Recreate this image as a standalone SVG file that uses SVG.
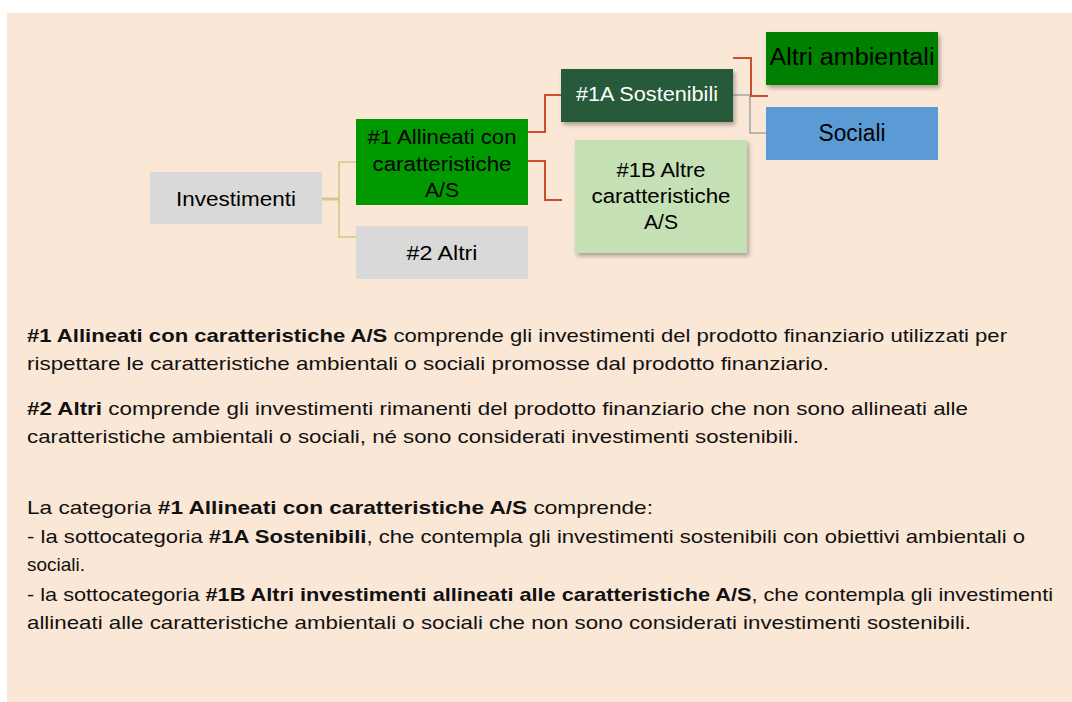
<svg xmlns="http://www.w3.org/2000/svg" width="1072" height="702" viewBox="0 0 1072 702">
<defs>
<filter id="sh" x="-10%" y="-10%" width="130%" height="140%">
<feDropShadow dx="2" dy="3" stdDeviation="2" flood-color="#000" flood-opacity="0.3"/>
</filter>
<style>
.n{font-family:"Liberation Sans",Arial,sans-serif;font-size:20px;text-anchor:middle;fill:#000}
.big{font-size:23px}
.w{fill:#fff}
.p{font-family:"Liberation Sans",Arial,sans-serif;font-size:19px;fill:#111}
.b{font-weight:bold}
.tan{fill:none;stroke:#D4C884;stroke-width:1.6}
.red{fill:none;stroke:#C9502E;stroke-width:2}
.gry{fill:none;stroke:#A6A6A6;stroke-width:1.6}
</style>
</defs>
<rect x="7" y="13" width="1065" height="689" fill="#FAE7D6"/>
<g id="connectors">
<path class="tan" d="M322,199 H339" style="stroke-width:3"/>
<path class="tan" d="M356,162 H339 V237 H356"/>
<path class="red" d="M528,132 H545 V95 H561"/>
<path class="red" d="M528,161 H545 V200 H562"/>
<path class="gry" d="M733,95 H750 V133 H766"/>
<path class="red" d="M733,58 H751 V96 H768"/>
</g>
<g id="investimenti">
<rect x="150" y="172" width="172" height="52" fill="#D9D9D9"/>
<text class="n" x="236" y="206" textLength="120" lengthAdjust="spacingAndGlyphs">Investimenti</text>
</g>
<g id="allineati">
<rect x="356" y="119" width="172" height="86" fill="#009A00"/>
<text class="n" x="442" y="144" textLength="149" lengthAdjust="spacingAndGlyphs">#1 Allineati con</text>
<text class="n" x="442" y="171" textLength="139" lengthAdjust="spacingAndGlyphs">caratteristiche</text>
<text class="n" x="442" y="197" textLength="34" lengthAdjust="spacingAndGlyphs">A/S</text>
</g>
<g id="altri2">
<rect x="356" y="226" width="172" height="53" fill="#D9D9D9"/>
<text class="n" x="442" y="260" textLength="71" lengthAdjust="spacingAndGlyphs">#2 Altri</text>
</g>
<g id="sostenibili">
<rect x="561" y="69" width="172" height="53" fill="#265A3B" filter="url(#sh)"/>
<text class="n w" x="647" y="101" textLength="142" lengthAdjust="spacingAndGlyphs">#1A Sostenibili</text>
</g>
<g id="altre1b">
<rect x="575" y="140" width="172" height="113" fill="#C5E0B4" filter="url(#sh)"/>
<text class="n" x="661" y="177" textLength="89" lengthAdjust="spacingAndGlyphs">#1B Altre</text>
<text class="n" x="661" y="203" textLength="139" lengthAdjust="spacingAndGlyphs">caratteristiche</text>
<text class="n" x="661" y="229" textLength="34" lengthAdjust="spacingAndGlyphs">A/S</text>
</g>
<g id="ambientali">
<rect x="766" y="32" width="172" height="53" fill="#008000" filter="url(#sh)"/>
<text class="n big" x="852" y="65" textLength="165" lengthAdjust="spacingAndGlyphs">Altri ambientali</text>
</g>
<g id="sociali">
<rect x="766" y="107" width="172" height="53" fill="#5B9BD5"/>
<text class="n big" x="852" y="141" textLength="67" lengthAdjust="spacingAndGlyphs">Sociali</text>
</g>
<g id="testo">
<text class="p" x="27" y="342" textLength="980" lengthAdjust="spacingAndGlyphs"><tspan class="b">#1 Allineati con caratteristiche A/S</tspan> comprende gli investimenti del prodotto finanziario utilizzati per</text>
<text class="p" x="27" y="370" textLength="802" lengthAdjust="spacingAndGlyphs">rispettare le caratteristiche ambientali o sociali promosse dal prodotto finanziario.</text>
<text class="p" x="27" y="415" textLength="941" lengthAdjust="spacingAndGlyphs"><tspan class="b">#2 Altri</tspan> comprende gli investimenti rimanenti del prodotto finanziario che non sono allineati alle</text>
<text class="p" x="27" y="443" textLength="772" lengthAdjust="spacingAndGlyphs">caratteristiche ambientali o sociali, né sono considerati investimenti sostenibili.</text>
<text class="p" x="27" y="514" textLength="626" lengthAdjust="spacingAndGlyphs">La categoria <tspan class="b">#1 Allineati con caratteristiche A/S</tspan> comprende:</text>
<text class="p" x="27" y="543" textLength="998" lengthAdjust="spacingAndGlyphs">- la sottocategoria <tspan class="b">#1A Sostenibili</tspan>, che contempla gli investimenti sostenibili con obiettivi ambientali o</text>
<text class="p" x="27" y="571">sociali.</text>
<text class="p" x="27" y="601" textLength="1026" lengthAdjust="spacingAndGlyphs">- la sottocategoria <tspan class="b">#1B Altri investimenti allineati alle caratteristiche A/S</tspan>, che contempla gli investimenti</text>
<text class="p" x="27" y="629" textLength="944" lengthAdjust="spacingAndGlyphs">allineati alle caratteristiche ambientali o sociali che non sono considerati investimenti sostenibili.</text>
</g>
</svg>
